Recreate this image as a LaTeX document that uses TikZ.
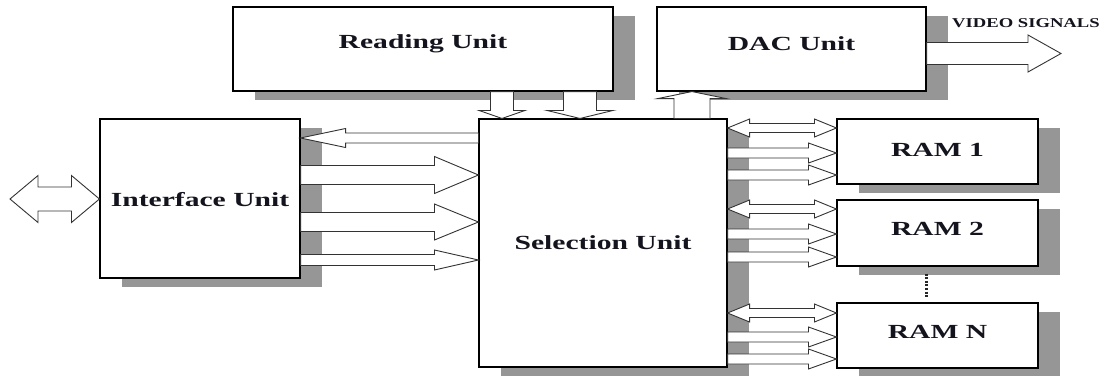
\documentclass[tikz,border=0pt]{standalone}
\usepackage{fontspec}
\newfontfamily\boxfont{Liberation Serif}[FakeStretch=1.48]
\newfontfamily\vidfont{Liberation Serif}[FakeStretch=1.38]
\usetikzlibrary{shadows,calc}
\definecolor{shgray}{RGB}{150,150,150}
\definecolor{txt}{RGB}{20,20,30}
\tikzset{
  box/.style={draw=black, line width=1.1pt, fill=white, inner sep=0pt,
    general shadow={fill=shgray, shadow xshift=22pt, shadow yshift=-9pt}},
  lbl/.style={font=\boxfont\bfseries\fontsize{20}{20}\selectfont, text=txt,
    text height=13.2pt, text depth=0pt, inner sep=0pt},
  blk/.style={draw=black!80, line width=0.9pt, fill=white, line join=miter},
  dots/.style={line width=3pt, dash pattern=on 2pt off 1.6pt, draw=black!85}
}
% horizontal block arrow: tail, tip, shaft half width, head half width, head length (signed)
\newcommand\harr[5]{%
\draw[blk] let \p1=(#1), \p2=(#2) in
 (\x1,{\y2+#3}) -- ({\x2-(#5)},{\y2+#3}) -- ({\x2-(#5)},{\y2+#4}) -- (\x2,\y2)
 -- ({\x2-(#5)},{\y2-#4}) -- ({\x2-(#5)},{\y2-#3}) -- (\x1,{\y2-#3}) -- cycle;}
% double horizontal block arrow: left tip, right tip, shaft hw, head hw, head length
\newcommand\darr[5]{%
\draw[blk] let \p1=(#1), \p2=(#2) in
 (\x1,\y1) -- ({\x1+#5},{\y1+#4}) -- ({\x1+#5},{\y1+#3}) -- ({\x2-#5},{\y1+#3})
 -- ({\x2-#5},{\y1+#4}) -- (\x2,\y1) -- ({\x2-#5},{\y1-#4}) -- ({\x2-#5},{\y1-#3})
 -- ({\x1+#5},{\y1-#3}) -- ({\x1+#5},{\y1-#4}) -- cycle;}
% vertical block arrow: tail, tip, shaft hw, head hw, head length (signed, + = pointing down)
\newcommand\varr[5]{%
\draw[blk] let \p1=(#1), \p2=(#2) in
 ({\x2-#3},\y1) -- ({\x2-#3},{\y2+(#5)}) -- ({\x2-#4},{\y2+(#5)}) -- (\x2,\y2)
 -- ({\x2+#4},{\y2+(#5)}) -- ({\x2+#3},{\y2+(#5)}) -- ({\x2+#3},\y1) -- cycle;}
\begin{document}
\begin{tikzpicture}[x=1pt,y=-1pt]
\useasboundingbox (0,0) rectangle (1106,375);
\fill[white] (0,0) rectangle (1106,375);
% boxes
\node[box, minimum width=380pt, minimum height=84pt,
  label={[lbl, yshift=7pt]center:Reading Unit}] (read) at (423,49) {};
\node[box, minimum width=269pt, minimum height=84pt,
  label={[lbl, yshift=5.5pt]center:DAC Unit}] (dac) at (791.5,49) {};
\node[box, minimum width=200pt, minimum height=159pt,
  label={[lbl, yshift=-1.5pt]center:Interface Unit}] (intf) at (200,198.5) {};
\node[box, minimum width=248pt, minimum height=248pt,
  label={[lbl]center:Selection Unit}] (sel) at (603,243) {};
\node[box, minimum width=201pt, minimum height=65pt,
  label={[lbl, yshift=1.5pt]center:RAM 1}] (ram1) at (937.5,151.5) {};
\node[box, minimum width=201pt, minimum height=66pt,
  label={[lbl, yshift=4.5pt]center:RAM 2}] (ram2) at (937.5,233) {};
\node[box, minimum width=201pt, minimum height=65pt,
  label={[lbl, yshift=4pt]center:RAM N}] (ramN) at (937.5,335.5) {};
% video signals
\node[font=\vidfont\bfseries\fontsize{13.5}{13.5}\selectfont, text=txt, anchor=west,
  text height=9pt, text depth=0pt, inner sep=0pt] (vid) at (952,23) {VIDEO SIGNALS};
\coordinate (vidend) at (1061,53.5);
\harr{dac.east |- vidend}{vidend}{11pt}{18.5pt}{33pt}
% external interface
\coordinate (extl) at (10,199);
\darr{extl}{intf.west |- extl}{12pt}{23.5pt}{28pt}
% reading -> selection
\varr{read.south -| 502,0}{sel.north -| 502,0}{11.5pt}{23pt}{8pt}
\varr{read.south -| 580,0}{sel.north -| 580,0}{16.5pt}{33pt}{8pt}
% selection -> DAC
\varr{sel.north -| 692,0}{dac.south -| 692,0}{18pt}{34pt}{-7pt}
% selection <-> interface
\harr{sel.west |- 0,138}{intf.east |- 0,138}{5pt}{9.5pt}{-45pt}
\harr{intf.east |- 0,175}{sel.west |- 0,175}{9.5pt}{18.5pt}{44pt}
\harr{intf.east |- 0,222}{sel.west |- 0,222}{9.5pt}{18pt}{44pt}
\harr{intf.east |- 0,260}{sel.west |- 0,260}{5.5pt}{10pt}{44pt}
% selection <-> RAMs
\darr{sel.east |- 0,128}{ram1.west |- 0,128}{4.5pt}{9pt}{22pt}
\harr{sel.east |- 0,153}{ram1.west |- 0,153}{5pt}{10pt}{28pt}
\harr{sel.east |- 0,175}{ram1.west |- 0,175}{5pt}{10pt}{28pt}
\darr{sel.east |- 0,209}{ram2.west |- 0,209}{4.5pt}{9pt}{22pt}
\harr{sel.east |- 0,234}{ram2.west |- 0,234}{5pt}{10pt}{28pt}
\harr{sel.east |- 0,257}{ram2.west |- 0,257}{5pt}{10pt}{28pt}
\darr{sel.east |- 0,313}{ramN.west |- 0,313}{4.5pt}{9pt}{22pt}
\harr{sel.east |- 0,337}{ramN.west |- 0,337}{5pt}{10pt}{28pt}
\harr{sel.east |- 0,359}{ramN.west |- 0,359}{5pt}{10pt}{28pt}
% dots between RAM 2 and RAM N
\draw[dots] ([shift={(-11.5pt,-7pt)}]ram2.south) -- ([shift={(-11.5pt,4pt)}]ramN.north);
\end{tikzpicture}
\end{document}
